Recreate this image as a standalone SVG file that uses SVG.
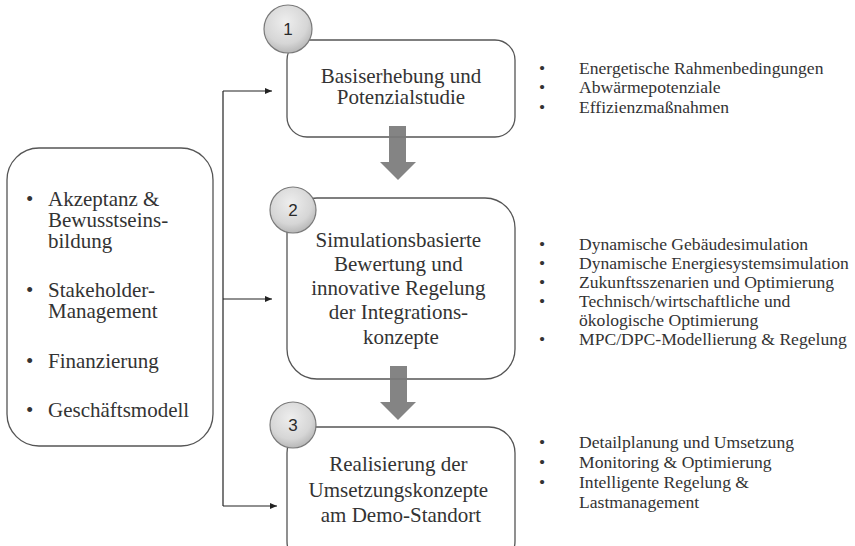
<svg xmlns="http://www.w3.org/2000/svg" width="855" height="546" viewBox="0 0 855 546">
  <style>
    .box { fill: #ffffff; stroke: #555555; stroke-width: 1.3; }
    .num { fill: url(#ballGrad); stroke: #7a7a7a; stroke-width: 1.2; }
    .numtxt { font-family: "Liberation Sans", Arial, sans-serif; font-size: 17px; fill: #2a2a2a; text-anchor: middle; }
    .main { font-family: "Liberation Serif", "Times New Roman", serif; font-size: 21px; fill: #333333; text-anchor: middle; }
    .side { font-family: "Liberation Serif", "Times New Roman", serif; font-size: 21px; fill: #333333; }
    .list { font-family: "Liberation Serif", "Times New Roman", serif; font-size: 17.6px; fill: #333333; }
    .conn { fill: none; stroke: #222222; stroke-width: 1.2; }
    .flow { fill: #7a7a7a; fill-opacity: 0.92; }
  </style>
  <defs>
    <radialGradient id="ballGrad" cx="0.45" cy="0.35" r="0.7">
      <stop offset="0" stop-color="#eeeeee"/>
      <stop offset="0.65" stop-color="#d6d6d6"/>
      <stop offset="1" stop-color="#b0b0b0"/>
    </radialGradient>
    <marker id="tip" markerWidth="8" markerHeight="8" refX="7" refY="4" orient="auto" markerUnits="userSpaceOnUse">
      <path d="M0,1 L7,4 L0,7 Z" fill="#222222"/>
    </marker>
  </defs>

  <!-- left context box -->
  <g id="context">
    <rect class="box" x="7" y="148" width="206" height="298" rx="32"/>
    <text class="side">
      <tspan x="26" y="206">•</tspan><tspan x="48" y="206">Akzeptanz &amp;</tspan>
      <tspan x="48" y="227">Bewusstseins-</tspan>
      <tspan x="48" y="248">bildung</tspan>
      <tspan x="26" y="297">•</tspan><tspan x="48" y="297">Stakeholder-</tspan>
      <tspan x="48" y="318">Management</tspan>
      <tspan x="26" y="368">•</tspan><tspan x="48" y="368">Finanzierung</tspan>
      <tspan x="26" y="417">•</tspan><tspan x="48" y="417">Geschäftsmodell</tspan>
    </text>
  </g>

  <!-- step 1 -->
  <g id="step1">
    <rect class="box" x="287" y="40" width="228" height="97" rx="20"/>
    <text class="main"><tspan x="401" y="83">Basiserhebung und</tspan><tspan x="401" y="104">Potenzialstudie</tspan></text>
    <circle class="num" cx="288" cy="29" r="24"/>
    <text class="numtxt" x="288" y="35">1</text>
  </g>

  <!-- step 2 -->
  <g id="step2">
    <rect class="box" x="287" y="198" width="228" height="181" rx="30"/>
    <text class="main">
      <tspan x="401" y="247">Simulationsbasierte</tspan>
      <tspan x="401" y="271">Bewertung und</tspan>
      <tspan x="401" y="295">innovative Regelung</tspan>
      <tspan x="401" y="319">der Integrations-</tspan>
      <tspan x="401" y="344">konzepte</tspan>
    </text>
    <circle class="num" cx="293" cy="210" r="23"/>
    <text class="numtxt" x="293" y="216">2</text>
  </g>

  <!-- step 3 -->
  <g id="step3">
    <rect class="box" x="287" y="427" width="228" height="140" rx="26"/>
    <text class="main">
      <tspan x="401" y="471">Realisierung der</tspan>
      <tspan x="401" y="497">Umsetzungskonzepte</tspan>
      <tspan x="401" y="522">am Demo-Standort</tspan>
    </text>
    <circle class="num" cx="293" cy="425" r="23"/>
    <text class="numtxt" x="293" y="431">3</text>
  </g>

  <!-- connectors -->
  <g id="connectors">
    <path class="conn" d="M223,91 L223,506"/>
    <path class="conn" d="M223,91 L272,91" marker-end="url(#tip)"/>
    <path class="conn" d="M223,299 L272,299" marker-end="url(#tip)"/>
    <path class="conn" d="M223,506 L277,506" marker-end="url(#tip)"/>
    <path class="flow" d="M389,126 L406,126 L406,162 L416,162 L398,180 L380,162 L389,162 Z"/>
    <path class="flow" d="M390,366 L407,366 L407,402 L416,402 L398,420 L380,402 L390,402 Z"/>
  </g>

  <!-- detail lists -->
  <g id="list1">
    <text class="list">
      <tspan x="539" y="74">•</tspan><tspan x="579" y="74">Energetische Rahmenbedingungen</tspan>
      <tspan x="539" y="93">•</tspan><tspan x="579" y="93">Abwärmepotenziale</tspan>
      <tspan x="539" y="113">•</tspan><tspan x="579" y="113">Effizienzmaßnahmen</tspan>
    </text>
  </g>
  <g id="list2">
    <text class="list">
      <tspan x="539" y="250">•</tspan><tspan x="579" y="250">Dynamische Gebäudesimulation</tspan>
      <tspan x="539" y="269">•</tspan><tspan x="579" y="269">Dynamische Energiesystemsimulation</tspan>
      <tspan x="539" y="288">•</tspan><tspan x="579" y="288">Zukunftsszenarien und Optimierung</tspan>
      <tspan x="539" y="307">•</tspan><tspan x="579" y="307">Technisch/wirtschaftliche und</tspan>
      <tspan x="579" y="326">ökologische Optimierung</tspan>
      <tspan x="539" y="345">•</tspan><tspan x="579" y="345">MPC/DPC-Modellierung &amp; Regelung</tspan>
    </text>
  </g>
  <g id="list3">
    <text class="list">
      <tspan x="539" y="448">•</tspan><tspan x="579" y="448">Detailplanung und Umsetzung</tspan>
      <tspan x="539" y="468">•</tspan><tspan x="579" y="468">Monitoring &amp; Optimierung</tspan>
      <tspan x="539" y="488">•</tspan><tspan x="579" y="488">Intelligente Regelung &amp;</tspan>
      <tspan x="579" y="508">Lastmanagement</tspan>
    </text>
  </g>
</svg>
